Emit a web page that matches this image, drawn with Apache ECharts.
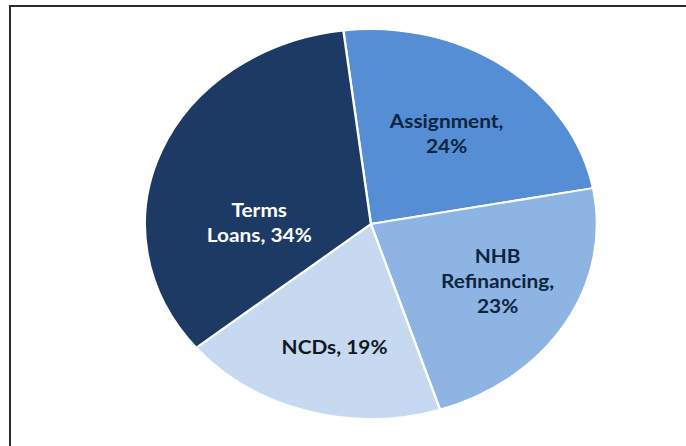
<!DOCTYPE html>
<html>
<head>
<meta charset="utf-8">
<script src="https://cdn.jsdelivr.net/npm/echarts@6/dist/echarts.min.js"></script>
<style>
  html, body { margin: 0; padding: 0; background: #ffffff; overflow: hidden; }
  #page { position: relative; width: 686px; height: 446px; overflow: hidden; }
  /* frame around the chart area: top and left rules */
  #frame {
    position: absolute; left: 9px; top: 5px; right: 0; bottom: -4px;
    border-top: 2px solid #2b2b2b; border-left: 2px solid #2b2b2b;
  }
  /* the pie is drawn as an ellipse: the chart is widened horizontally */
  #chart {
    position: absolute; left: 0; top: 0;
    width: 592px; height: 446px;
    transform: scaleX(1.159); transform-origin: 0 0;
  }
</style>
</head>
<body>
<div id="page">
  <div id="frame"></div>
  <div id="chart"></div>
</div>
<script>
// Borrowing mix (%), clockwise from the top
const categories = ['Assignment', 'NHB\nRefinancing', 'NCDs', 'Terms\nLoans'];
const shares = [24, 23, 19, 34];
// whether the percentage goes on its own line under the name
const valueOnNewLine = [true, true, false, false];

const sliceColors = ['#558ed5', '#8eb4e3', '#c6d9f1', '#1c3a64'];
const labelColors = ['#0e2440', '#0e2440', '#101820', '#ffffff'];
// small shifts of each label away from the slice midpoint
const labelNudge = [[6, -9], [23, 6], [-3, 27], [-3, 36]];

const chart = echarts.init(document.getElementById('chart'), null, { renderer: 'svg' });

const data = categories.map((name, i) => ({
  name: name,
  value: shares[i],
  itemStyle: { color: sliceColors[i] },
  label: { color: labelColors[i] }
}));

chart.setOption({
  animation: false,
  series: [{
    type: 'pie',
    center: [320, 224],
    radius: [0, 195],
    startAngle: 97,
    clockwise: true,
    avoidLabelOverlap: false,
    itemStyle: { borderColor: '#ffffff', borderWidth: 2 },
    label: {
      show: true,
      position: 'inside',
      fontFamily: 'Lato',
      fontWeight: 'bold',
      fontSize: 18,
      lineHeight: 25,
      align: 'center',
      formatter: function (p) {
        return p.name + ',' + (valueOnNewLine[p.dataIndex] ? '\n' : ' ') + p.value + '%';
      }
    },
    labelLine: { show: false },
    labelLayout: function (p) {
      const n = labelNudge[p.dataIndex];
      return { dx: n[0], dy: n[1], hideOverlap: false };
    },
    emphasis: { disabled: true },
    data: data
  }]
});
</script>
</body>
</html>
